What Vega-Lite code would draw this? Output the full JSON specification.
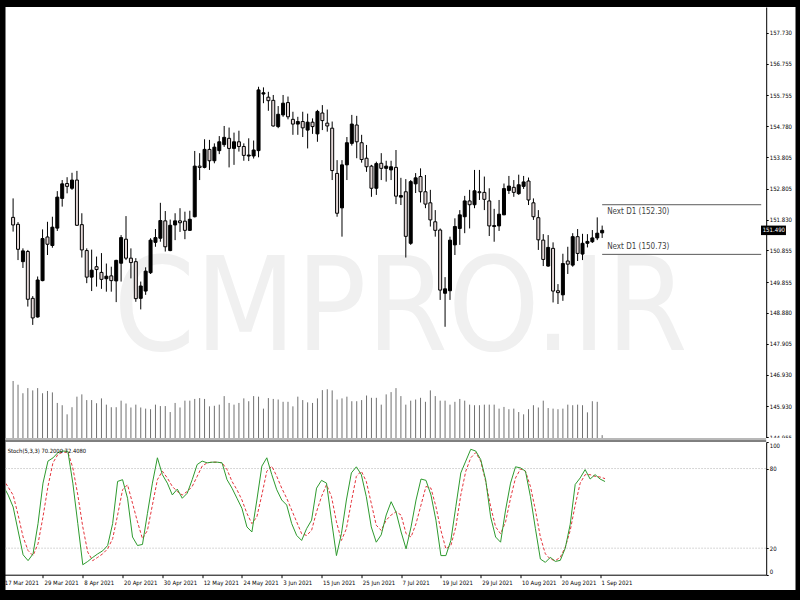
{
"$schema":"https://vega.github.io/schema/vega-lite/v6.json",
"background":"#000000",
"padding":{"left":2.5,"top":7,"right":5,"bottom":10},
"bounds":"flush",
"spacing":0,
"config":{"view":{"fill":"#ffffff","stroke":null},"font":"DejaVu Sans Condensed, sans-serif",
"axis":{"labelFont":"DejaVu Sans Condensed, sans-serif","labelFontSize":6,"labelColor":"#000000","tickColor":"#000000","domainColor":"#000000","grid":false,"title":null,"tickSize":3,"labelOverlap":false}},
"datasets":{"bars":[
{"i":0,"date":"2021-03-17","k":67,"d":72},
{"i":1,"date":"2021-03-18","o":151.90,"h":152.50,"l":151.45,"c":151.66,"v":200,"k":60,"d":66},
{"i":2,"date":"2021-03-19","o":151.68,"h":151.75,"l":150.55,"c":150.89,"v":187,"k":51,"d":60},
{"i":3,"date":"2021-03-22","o":150.50,"h":150.92,"l":150.30,"c":150.84,"v":157,"k":33,"d":45},
{"i":4,"date":"2021-03-23","o":150.82,"h":150.87,"l":149.08,"c":149.31,"v":175,"k":15,"d":28.4},
{"i":5,"date":"2021-03-24","o":149.34,"h":149.41,"l":148.50,"c":148.72,"v":167,"k":10.6,"d":18.2},
{"i":6,"date":"2021-03-25","o":148.75,"h":150.03,"l":148.73,"c":149.92,"v":175,"k":15.7,"d":14.4},
{"i":7,"date":"2021-03-26","o":149.90,"h":151.52,"l":149.88,"c":151.23,"v":157,"k":38.5,"d":23.3},
{"i":8,"date":"2021-03-29","o":151.28,"h":151.76,"l":150.71,"c":151.05,"v":165,"k":69,"d":43.6},
{"i":9,"date":"2021-03-30","o":151.01,"h":151.92,"l":150.94,"c":151.59,"v":160,"k":85.6,"d":66.5},
{"i":10,"date":"2021-03-31","o":151.56,"h":152.73,"l":151.47,"c":152.54,"v":123,"k":88,"d":84.3},
{"i":11,"date":"2021-04-01","o":152.50,"h":153.08,"l":152.24,"c":152.96,"v":115,"k":92,"d":90.7},
{"i":12,"date":"2021-04-02","o":152.97,"h":153.17,"l":152.66,"c":152.88,"v":83,"k":93.2,"d":92.4},
{"i":13,"date":"2021-04-05","o":152.82,"h":153.31,"l":152.77,"c":153.08,"v":108,"k":93,"d":92.4},
{"i":14,"date":"2021-04-06","o":153.08,"h":153.37,"l":151.63,"c":151.65,"v":145,"k":69,"d":80.5},
{"i":15,"date":"2021-04-07","o":151.67,"h":152.03,"l":150.63,"c":150.87,"v":153,"k":38.5,"d":60.1},
{"i":16,"date":"2021-04-08","o":150.85,"h":150.92,"l":149.82,"c":150.01,"v":133,"k":7.5,"d":36},
{"i":17,"date":"2021-04-09","o":150.01,"h":150.88,"l":149.57,"c":150.23,"v":133,"k":10,"d":17},
{"i":18,"date":"2021-04-12","o":150.34,"h":150.66,"l":149.71,"c":150.25,"v":122,"k":13,"d":10.6},
{"i":19,"date":"2021-04-13","o":150.16,"h":150.77,"l":149.64,"c":149.94,"v":139,"k":15.7,"d":13.1},
{"i":20,"date":"2021-04-14","o":149.96,"h":150.44,"l":149.55,"c":150.04,"v":117,"k":18,"d":15.7},
{"i":21,"date":"2021-04-15","o":150.05,"h":150.34,"l":149.55,"c":149.90,"v":108,"k":22,"d":19.5},
{"i":22,"date":"2021-04-16","o":149.89,"h":150.56,"l":149.22,"c":150.54,"v":108,"k":38.5,"d":27.1},
{"i":23,"date":"2021-04-19","o":150.45,"h":151.34,"l":149.87,"c":151.26,"v":131,"k":70.3,"d":44.9},
{"i":24,"date":"2021-04-20","o":151.21,"h":151.94,"l":150.55,"c":150.61,"v":121,"k":71.6,"d":64},
{"i":25,"date":"2021-04-21","o":150.61,"h":150.92,"l":149.97,"c":150.47,"v":107,"k":57.6,"d":67.8},
{"i":26,"date":"2021-04-22","o":150.50,"h":150.61,"l":149.23,"c":149.33,"v":117,"k":28.4,"d":53.8},
{"i":27,"date":"2021-04-23","o":149.34,"h":149.87,"l":148.99,"c":149.73,"v":107,"k":22,"d":39.8},
{"i":28,"date":"2021-04-26","o":149.57,"h":150.32,"l":149.45,"c":150.20,"v":103,"k":22.8,"d":27.1},
{"i":29,"date":"2021-04-27","o":150.15,"h":151.24,"l":150.11,"c":151.18,"v":101,"k":46.2,"d":33.4},
{"i":30,"date":"2021-04-28","o":151.11,"h":151.53,"l":150.97,"c":151.26,"v":117,"k":69,"d":52.5},
{"i":31,"date":"2021-04-29","o":151.24,"h":152.36,"l":151.13,"c":151.80,"v":112,"k":88.1,"d":71.6},
{"i":32,"date":"2021-04-30","o":151.79,"h":152.10,"l":150.82,"c":150.97,"v":112,"k":75.4,"d":78},
{"i":33,"date":"2021-05-03","o":150.85,"h":151.83,"l":150.83,"c":151.65,"v":91,"k":69,"d":72.9},
{"i":34,"date":"2021-05-04","o":151.66,"h":152.03,"l":151.18,"c":151.79,"v":123,"k":60.1,"d":66.5},
{"i":35,"date":"2021-05-05","o":151.79,"h":152.19,"l":151.44,"c":151.73,"v":107,"k":64.5,"d":62.7},
{"i":36,"date":"2021-05-06","o":151.78,"h":152.08,"l":151.21,"c":151.49,"v":131,"k":57.6,"d":60.1},
{"i":37,"date":"2021-05-07","o":151.49,"h":152.11,"l":151.47,"c":151.84,"v":131,"k":61.4,"d":62.7},
{"i":38,"date":"2021-05-10","o":151.92,"h":154.00,"l":151.90,"c":153.52,"v":137,"k":71.6,"d":66.5},
{"i":39,"date":"2021-05-11","o":153.52,"h":153.93,"l":153.08,"c":153.48,"v":140,"k":83,"d":74.1},
{"i":40,"date":"2021-05-12","o":153.48,"h":154.37,"l":153.45,"c":154.05,"v":137,"k":85.6,"d":81.8},
{"i":41,"date":"2021-05-13","o":154.05,"h":154.35,"l":153.40,"c":153.69,"v":111,"k":84.3,"d":84.3},
{"i":42,"date":"2021-05-14","o":153.69,"h":154.24,"l":153.61,"c":154.12,"v":113,"k":84.8,"d":84.8},
{"i":43,"date":"2021-05-17","o":154.01,"h":154.47,"l":153.90,"c":154.29,"v":117,"k":84.8,"d":84.8},
{"i":44,"date":"2021-05-18","o":154.20,"h":154.79,"l":154.13,"c":154.43,"v":147,"k":84.3,"d":84.3},
{"i":45,"date":"2021-05-19","o":154.40,"h":154.74,"l":153.48,"c":154.08,"v":123,"k":71.6,"d":79.2},
{"i":46,"date":"2021-05-20","o":154.08,"h":154.58,"l":153.56,"c":154.29,"v":117,"k":65.2,"d":70.3},
{"i":47,"date":"2021-05-21","o":154.29,"h":154.64,"l":153.98,"c":154.14,"v":123,"k":57.6,"d":64},
{"i":48,"date":"2021-05-24","o":154.14,"h":154.24,"l":153.69,"c":153.86,"v":139,"k":50,"d":56.3},
{"i":49,"date":"2021-05-25","o":153.84,"h":154.40,"l":153.68,"c":153.87,"v":129,"k":36,"d":46.2},
{"i":50,"date":"2021-05-26","o":153.84,"h":154.33,"l":153.76,"c":154.03,"v":147,"k":32.2,"d":38.5},
{"i":51,"date":"2021-05-27","o":154.01,"h":156.03,"l":153.80,"c":155.93,"v":145,"k":56.3,"d":43.6},
{"i":52,"date":"2021-05-28","o":155.80,"h":156.01,"l":155.51,"c":155.84,"v":103,"k":81.8,"d":60.1},
{"i":53,"date":"2021-05-31","o":155.70,"h":155.87,"l":155.27,"c":155.59,"v":140,"k":88.1,"d":78},
{"i":54,"date":"2021-06-01","o":155.60,"h":155.77,"l":154.77,"c":154.79,"v":137,"k":75.4,"d":81.8},
{"i":55,"date":"2021-06-02","o":154.77,"h":155.42,"l":154.72,"c":155.16,"v":135,"k":64,"d":74.1},
{"i":56,"date":"2021-06-03","o":155.14,"h":155.77,"l":155.08,"c":155.51,"v":127,"k":56.3,"d":65.2},
{"i":57,"date":"2021-06-04","o":155.53,"h":155.72,"l":155.00,"c":155.08,"v":127,"k":52.5,"d":57.6},
{"i":58,"date":"2021-06-07","o":155.00,"h":155.24,"l":154.51,"c":154.85,"v":111,"k":38.5,"d":48.7},
{"i":59,"date":"2021-06-08","o":154.85,"h":155.08,"l":154.51,"c":154.93,"v":145,"k":29.6,"d":39.8},
{"i":60,"date":"2021-06-09","o":154.93,"h":155.24,"l":154.44,"c":154.73,"v":133,"k":25.8,"d":30.9},
{"i":61,"date":"2021-06-10","o":154.66,"h":155.18,"l":154.08,"c":154.91,"v":125,"k":34.7,"d":29.6},
{"i":62,"date":"2021-06-11","o":154.91,"h":155.03,"l":154.54,"c":154.77,"v":123,"k":41.1,"d":33.4},
{"i":63,"date":"2021-06-14","o":154.54,"h":155.30,"l":154.29,"c":155.25,"v":139,"k":65.2,"d":47.4},
{"i":64,"date":"2021-06-15","o":155.20,"h":155.45,"l":154.66,"c":154.96,"v":168,"k":71.1,"d":58.9},
{"i":65,"date":"2021-06-16","o":154.88,"h":155.31,"l":154.61,"c":154.79,"v":171,"k":69,"d":67.8},
{"i":66,"date":"2021-06-17","o":154.72,"h":154.93,"l":153.08,"c":153.38,"v":167,"k":41.1,"d":58.9},
{"i":67,"date":"2021-06-18","o":153.29,"h":153.71,"l":151.92,"c":152.03,"v":135,"k":14.4,"d":39.8},
{"i":68,"date":"2021-06-21","o":152.20,"h":153.71,"l":151.29,"c":153.56,"v":139,"k":30.9,"d":25.8},
{"i":69,"date":"2021-06-22","o":153.56,"h":154.44,"l":153.08,"c":154.26,"v":145,"k":56.3,"d":34.7},
{"i":70,"date":"2021-06-23","o":154.24,"h":155.14,"l":154.17,"c":154.85,"v":129,"k":76.7,"d":55},
{"i":71,"date":"2021-06-24","o":154.82,"h":155.11,"l":153.77,"c":154.29,"v":129,"k":81.3,"d":74.1},
{"i":72,"date":"2021-06-25","o":154.26,"h":154.51,"l":153.63,"c":153.73,"v":133,"k":75.4,"d":78},
{"i":73,"date":"2021-06-28","o":153.77,"h":154.19,"l":153.34,"c":153.50,"v":149,"k":58.9,"d":70.3},
{"i":74,"date":"2021-06-29","o":153.52,"h":153.56,"l":152.55,"c":152.82,"v":141,"k":36,"d":53.8},
{"i":75,"date":"2021-06-30","o":152.82,"h":153.66,"l":152.61,"c":153.60,"v":141,"k":24.5,"d":37.3},
{"i":76,"date":"2021-07-01","o":153.61,"h":153.93,"l":153.08,"c":153.45,"v":117,"k":30,"d":33.4},
{"i":77,"date":"2021-07-02","o":153.45,"h":153.69,"l":153.03,"c":153.52,"v":153,"k":45,"d":41.1},
{"i":78,"date":"2021-07-05","o":153.40,"h":153.69,"l":153.08,"c":153.50,"v":161,"k":55,"d":45},
{"i":79,"date":"2021-07-06","o":153.48,"h":154.03,"l":152.32,"c":152.57,"v":175,"k":47,"d":47.4},
{"i":80,"date":"2021-07-07","o":152.54,"h":153.15,"l":152.29,"c":152.59,"v":147,"k":32.2,"d":44.9},
{"i":81,"date":"2021-07-08","o":152.71,"h":153.11,"l":150.63,"c":151.30,"v":117,"k":19.5,"d":30.9},
{"i":82,"date":"2021-07-09","o":151.08,"h":153.08,"l":151.03,"c":153.03,"v":131,"k":36,"d":28.4},
{"i":83,"date":"2021-07-12","o":152.96,"h":153.30,"l":152.67,"c":153.15,"v":135,"k":56.3,"d":38.5},
{"i":84,"date":"2021-07-13","o":153.19,"h":153.45,"l":152.37,"c":152.71,"v":141,"k":72.1,"d":52.5},
{"i":85,"date":"2021-07-14","o":152.71,"h":153.24,"l":152.19,"c":152.32,"v":127,"k":71.1,"d":66.5},
{"i":86,"date":"2021-07-15","o":152.36,"h":152.77,"l":151.61,"c":151.82,"v":167,"k":60.1,"d":65.2},
{"i":87,"date":"2021-07-16","o":151.76,"h":152.13,"l":151.29,"c":151.49,"v":147,"k":41.1,"d":51.3},
{"i":88,"date":"2021-07-19","o":151.50,"h":151.55,"l":149.29,"c":149.60,"v":131,"k":14.4,"d":33.4},
{"i":89,"date":"2021-07-20","o":149.50,"h":150.01,"l":148.44,"c":149.64,"v":131,"k":14.4,"d":19.5},
{"i":90,"date":"2021-07-21","o":149.58,"h":151.29,"l":149.29,"c":151.18,"v":117,"k":25.8,"d":22},
{"i":91,"date":"2021-07-22","o":151.03,"h":151.87,"l":150.71,"c":151.61,"v":127,"k":51.3,"d":36},
{"i":92,"date":"2021-07-23","o":151.55,"h":152.13,"l":151.03,"c":151.98,"v":137,"k":76.7,"d":60.1},
{"i":93,"date":"2021-07-26","o":151.92,"h":152.58,"l":151.40,"c":152.42,"v":131,"k":85.6,"d":78},
{"i":94,"date":"2021-07-27","o":152.42,"h":152.77,"l":151.55,"c":152.30,"v":117,"k":94.5,"d":88.1},
{"i":95,"date":"2021-07-28","o":152.30,"h":153.40,"l":152.19,"c":152.74,"v":115,"k":93.2,"d":92},
{"i":96,"date":"2021-07-29","o":152.71,"h":153.40,"l":152.45,"c":152.68,"v":115,"k":86.8,"d":85.6},
{"i":97,"date":"2021-07-30","o":152.69,"h":153.19,"l":152.13,"c":152.47,"v":117,"k":71.6,"d":70.3},
{"i":98,"date":"2021-08-02","o":152.42,"h":152.82,"l":151.31,"c":151.63,"v":117,"k":43.6,"d":51.3},
{"i":99,"date":"2021-08-03","o":151.61,"h":152.17,"l":151.13,"c":151.64,"v":117,"k":28.4,"d":36},
{"i":100,"date":"2021-08-04","o":151.63,"h":152.45,"l":151.47,"c":152.00,"v":103,"k":24.5,"d":30.9},
{"i":101,"date":"2021-08-05","o":151.98,"h":152.97,"l":151.97,"c":152.81,"v":109,"k":48.7,"d":39.8},
{"i":102,"date":"2021-08-06","o":152.75,"h":153.21,"l":152.64,"c":152.89,"v":101,"k":69,"d":57.6},
{"i":103,"date":"2021-08-09","o":152.85,"h":153.08,"l":152.55,"c":152.69,"v":103,"k":81.3,"d":72.9},
{"i":104,"date":"2021-08-10","o":152.65,"h":153.25,"l":152.61,"c":152.93,"v":91,"k":80.5,"d":79.7},
{"i":105,"date":"2021-08-11","o":152.88,"h":153.21,"l":152.80,"c":153.02,"v":83,"k":78,"d":78},
{"i":106,"date":"2021-08-12","o":153.05,"h":153.16,"l":152.29,"c":152.45,"v":101,"k":58.9,"d":66.5},
{"i":107,"date":"2021-08-13","o":152.36,"h":152.50,"l":151.82,"c":151.92,"v":115,"k":34.7,"d":48.7},
{"i":108,"date":"2021-08-16","o":151.89,"h":152.13,"l":150.87,"c":151.19,"v":107,"k":11.8,"d":28.4},
{"i":109,"date":"2021-08-17","o":151.18,"h":151.37,"l":150.36,"c":150.57,"v":131,"k":9.3,"d":15.7},
{"i":110,"date":"2021-08-18","o":150.36,"h":151.34,"l":150.34,"c":150.95,"v":105,"k":13.1,"d":11.8},
{"i":111,"date":"2021-08-19","o":150.92,"h":151.11,"l":149.21,"c":149.57,"v":103,"k":10,"d":10.6},
{"i":112,"date":"2021-08-20","o":149.58,"h":149.79,"l":149.16,"c":149.52,"v":101,"k":10.8,"d":13.1},
{"i":113,"date":"2021-08-23","o":149.45,"h":150.75,"l":149.26,"c":150.44,"v":103,"k":20,"d":20.7},
{"i":114,"date":"2021-08-24","o":150.52,"h":150.97,"l":150.11,"c":150.42,"v":117,"k":38,"d":33.4},
{"i":115,"date":"2021-08-25","o":150.39,"h":151.40,"l":150.34,"c":151.29,"v":115,"k":68,"d":52.5},
{"i":116,"date":"2021-08-26","o":151.29,"h":151.53,"l":150.52,"c":150.76,"v":117,"k":72.9,"d":69},
{"i":117,"date":"2021-08-27","o":150.74,"h":151.38,"l":150.55,"c":151.08,"v":115,"k":79.2,"d":75.4},
{"i":118,"date":"2021-08-30","o":151.08,"h":151.37,"l":150.95,"c":151.14,"v":90,"k":72.1,"d":75.4},
{"i":119,"date":"2021-08-31","o":151.13,"h":151.50,"l":151.09,"c":151.25,"v":129,"k":75.4,"d":74.1},
{"i":120,"date":"2021-09-01","o":151.25,"h":151.90,"l":151.18,"c":151.40,"v":127,"k":72.1,"d":73.6},
{"i":121,"date":"2021-09-02","o":151.41,"h":151.64,"l":151.25,"c":151.49,"v":10,"k":70.2,"d":72.408}
],
"next":[{"level":152.30,"label":"Next D1 (152.30)","pos":"below"},{"level":150.73,"label":"Next D1 (150.73)","pos":"above"}],
"bid":[{"price":151.49,"label":"151.490"}]
},
"vconcat":[
{
"width":790,"height":431,
"layer":[
{"layer":[
 {"data":{"values":[{"wm":"CMPRO.IR"}]},
  "mark":{"type":"text","font":"DejaVu Sans Condensed, sans-serif","fontSize":130,"color":"#f0f0f0","align":"center","baseline":"alphabetic"},
  "encoding":{
   "x":{"datum":79.9,"type":"quantitative","scale":{"domain":[0,153.4],"range":[-2.3,760.7],"nice":false,"zero":false},"axis":{"labels":false,"ticks":false,"domain":true}},
   "y":{"datum":147.7,"type":"quantitative","scale":{"domain":[144.9235,158.552],"nice":false,"zero":false},
        "axis":{"orient":"right","offset":-29.3,"values":[144.955,145.930,146.930,147.905,148.880,149.855,150.855,151.830,152.805,153.805,154.780,155.755,156.755,157.730],"tickCount":30,"format":".3f","tickSize":2,"labelPadding":1,"labelOverlap":false,"labelBound":false,"labelFlush":false}},
   "text":{"field":"wm"}}},
 {"data":{"name":"bars"},"transform":[{"filter":"datum.i >= 1"}],
  "mark":{"type":"rule","color":"#000000","strokeWidth":1},
  "encoding":{"x":{"field":"i","type":"quantitative"},"y":{"field":"l","type":"quantitative"},"y2":{"field":"h"}}},
 {"data":{"name":"bars"},"transform":[{"filter":"datum.i >= 1"}],
  "mark":{"type":"bar","size":3,"stroke":"#000000","strokeWidth":1},
  "encoding":{"x":{"field":"i","type":"quantitative"},"y":{"field":"o","type":"quantitative"},"y2":{"field":"c"},
   "color":{"condition":{"test":"datum.c >= datum.o","value":"#000000"},"value":"#e2d6d6"}}},
 {"data":{"name":"next"},
  "mark":{"type":"rule","color":"#5a5a5a","strokeWidth":1},
  "encoding":{"x":{"datum":121,"type":"quantitative"},"x2":{"datum":153.4},"y":{"field":"level","type":"quantitative"}}},
 {"data":{"name":"next"},"transform":[{"filter":"datum.pos == 'below'"}],
  "mark":{"type":"text","align":"left","baseline":"top","dx":5,"dy":3,"fontSize":8,"color":"#444444"},
  "encoding":{"x":{"datum":121,"type":"quantitative"},"y":{"field":"level","type":"quantitative"},"text":{"field":"label"}}},
 {"data":{"name":"next"},"transform":[{"filter":"datum.pos == 'above'"}],
  "mark":{"type":"text","align":"left","baseline":"bottom","dx":5,"dy":-3,"fontSize":8,"color":"#444444"},
  "encoding":{"x":{"datum":121,"type":"quantitative"},"y":{"field":"level","type":"quantitative"},"text":{"field":"label"}}},
 {"data":{"name":"bid"},
  "mark":{"type":"point","shape":"M-1.25,-0.475H1.25V0.475H-1.25Z","size":400,"filled":true,"color":"#000000","opacity":1,"strokeWidth":0},
  "encoding":{"x":{"datum":155.9,"type":"quantitative"},"y":{"field":"price","type":"quantitative"}}},
 {"data":{"name":"bid"},
  "mark":{"type":"text","align":"left","baseline":"middle","dx":1,"fontSize":6,"color":"#ffffff"},
  "encoding":{"x":{"datum":153.5,"type":"quantitative"},"y":{"field":"price","type":"quantitative"},"text":{"field":"label"}}}
]},
{"data":{"name":"bars"},"transform":[{"filter":"datum.i >= 1"}],
 "mark":{"type":"rule","color":"#707070","strokeWidth":1},
 "encoding":{"x":{"field":"i","type":"quantitative"},"y":{"field":"v","type":"quantitative","scale":{"domain":[0,1512],"nice":false},"axis":null},"y2":{"datum":0}}}
],
"resolve":{"scale":{"y":"independent"},"axis":{"y":"independent"}}
},
{
"width":790,"height":152,
"layer":[
 {"data":{"values":[{"lv":20},{"lv":80}]},
  "mark":{"type":"rule","color":"#b0b0b0","strokeDash":[1,2],"strokeWidth":1},
  "encoding":{
   "x":{"datum":0.47,"type":"quantitative","scale":{"domain":[0,153.4],"range":[-2.3,760.7],"nice":false,"zero":false},
        "axis":{"orient":"bottom","offset":-15.3,"values":[0,8,16,24,32,40,48,56,64,72,80,88,96,104,112,120],"tickCount":30,"labelExpr":"['17 Mar 2021','29 Mar 2021','8 Apr 2021','20 Apr 2021','30 Apr 2021','12 May 2021','24 May 2021','3 Jun 2021','15 Jun 2021','25 Jun 2021','7 Jul 2021','19 Jul 2021','29 Jul 2021','10 Aug 2021','20 Aug 2021','1 Sep 2021'][round(datum.value/8)]","labelAlign":"left","labelFlush":false,"labelBound":false,"labelOverlap":false,"labelPadding":2,"labelOffset":1,"tickSize":3}},
   "x2":{"datum":153.4},
   "y":{"field":"lv","type":"quantitative","scale":{"domain":[0,100],"range":[136.7,4],"nice":false,"zero":false},
        "axis":{"orient":"right","offset":-29.3,"values":[0,20,80,100],"labelFlush":true,"labelOverlap":false,"tickSize":2,"labelPadding":1}}}},
 {"data":{"values":[{"lv":102.3}]},
  "mark":{"type":"rule","color":"#b8b8b8","strokeWidth":2},
  "encoding":{"x":{"datum":0.47,"type":"quantitative"},"x2":{"datum":153.4},"y":{"field":"lv","type":"quantitative"}}},
 {"data":{"values":[{"lv":100.75}]},
  "mark":{"type":"rule","color":"#000000","strokeWidth":1},
  "encoding":{"x":{"datum":0.47,"type":"quantitative"},"x2":{"datum":153.4},"y":{"field":"lv","type":"quantitative"}}},
 {"data":{"name":"bars"},
  "mark":{"type":"line","color":"#e4343c","strokeWidth":1,"strokeDash":[3,2],"clip":true},
  "encoding":{"x":{"field":"i","type":"quantitative"},"y":{"field":"d","type":"quantitative"}}},
 {"data":{"name":"bars"},
  "mark":{"type":"line","color":"#2e9a2e","strokeWidth":1,"clip":true},
  "encoding":{"x":{"field":"i","type":"quantitative"},"y":{"field":"k","type":"quantitative"}}},
 {"data":{"values":[{"t":"Stoch(5,3,3) 70.2000 72.4080"}]},
  "mark":{"type":"text","align":"left","baseline":"middle","fontSize":5.8,"color":"#000000"},
  "encoding":{"x":{"datum":0.9,"type":"quantitative"},"y":{"datum":93.2,"type":"quantitative"},"text":{"field":"t"}}}
]
}
]
}
